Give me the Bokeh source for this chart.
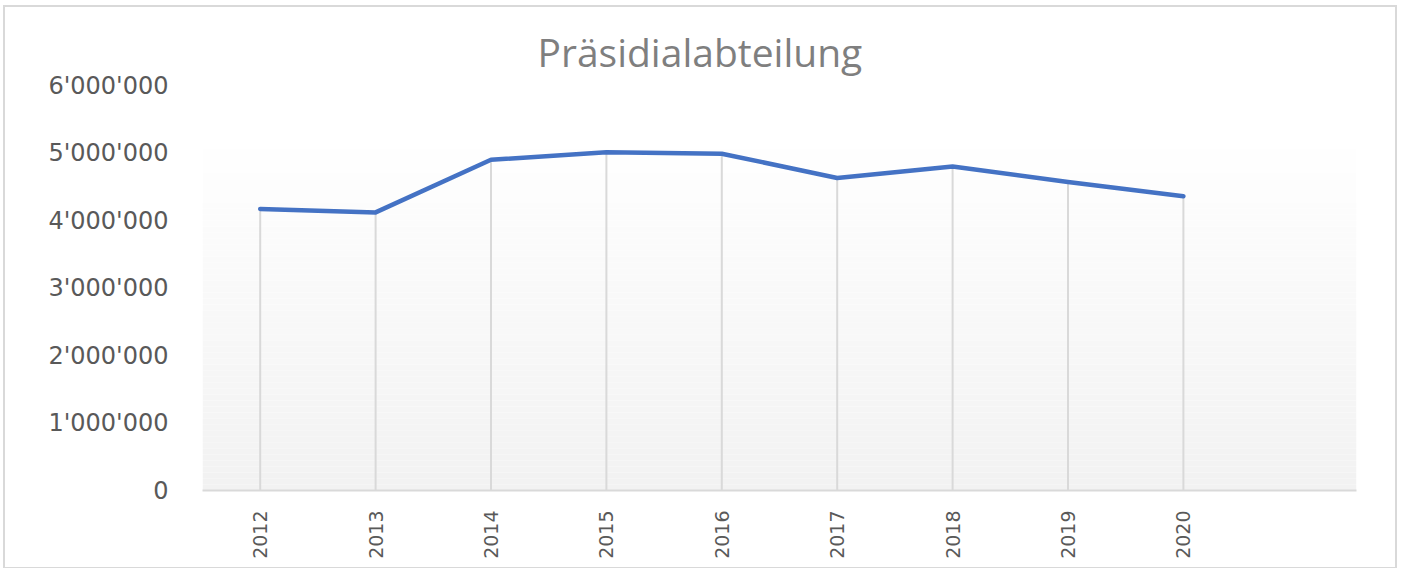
import numpy as np
from bokeh.plotting import figure
from bokeh.models import FixedTicker, Range1d, ColumnDataSource
from bokeh.embed import file_html
from bokeh.resources import INLINE

title_text = "Präsidialabteilung"
years = ["2012", "2013", "2014", "2015", "2016", "2017", "2018", "2019", "2020"]
amounts = [4170000, 4120000, 4900000, 5010000, 4990000, 4630000, 4800000, 4570000, 4360000]
y_ticks = [0, 1000000, 2000000, 3000000, 4000000, 5000000, 6000000]
y_tick_labels = ["0", "1'000'000", "2'000'000", "3'000'000", "4'000'000", "5'000'000", "6'000'000"]

x_num = [int(y) for y in years]
x_lo, x_hi = x_num[0] - 0.5, x_num[-1] + 1.5

p = figure(width=1390, height=560, output_backend="svg", toolbar_location=None,
           x_range=Range1d(x_lo, x_hi), y_range=Range1d(0, 6000000),
           min_border_left=197, min_border_right=39, min_border_top=78, min_border_bottom=77,
           frame_width=1154, frame_height=405)
p.styles = {"border": "2px solid #d9d9d9", "margin-left": "3px", "margin-top": "5px"}
p.outline_line_color = None
p.background_fill_color = "white"
p.border_fill_color = "white"
p.xgrid.visible = False
p.ygrid.visible = False

p.title.text = title_text
p.title.align = "left"
p.title.offset = 335
p.title.text_font = "Open Sans"
p.title.text_font_style = "normal"
p.title.text_font_size = "39px"
p.title.text_color = "#7f7f7f"
p.title.standoff = 15

# gradient plot-area background
grad_top = 5330000
n = 60
edges = np.linspace(0, grad_top, n + 1)
cols = []
for i in range(n):
    t = i / (n - 1)
    c = int(round(0xf2 + (0xff - 0xf2) * t))
    cols.append("#%02x%02x%02x" % (c, c, c))
p.quad(left=x_lo, right=x_hi, bottom=edges[:-1], top=edges[1:], fill_color=cols, line_color=None)

src = ColumnDataSource(dict(x=x_num, y=amounts, y0=[0] * len(x_num)))
p.segment(x0="x", y0="y0", x1="x", y1="y", source=src, line_color="#d9d9d9", line_width=2)
p.line(x="x", y="y", source=src, line_color="#4472c4", line_width=4.5, line_join="round", line_cap="round")

# axes
p.xaxis.ticker = FixedTicker(ticks=x_num)
p.xaxis.major_label_overrides = {x: y for x, y in zip(x_num, years)}
p.xaxis.major_label_orientation = np.pi / 2
p.xaxis.axis_line_color = "#d9d9d9"
p.xaxis.axis_line_width = 2
p.xaxis.major_tick_line_color = None
p.xaxis.minor_tick_line_color = None
p.xaxis.major_label_text_font = "DejaVu Sans"
p.xaxis.major_label_text_font_size = "19px"
p.xaxis.major_label_text_color = "#595959"
p.xaxis.major_label_standoff = 14

p.yaxis.ticker = FixedTicker(ticks=y_ticks)
p.yaxis.major_label_overrides = {t: l for t, l in zip(y_ticks, y_tick_labels)}
p.yaxis.axis_line_color = None
p.yaxis.major_tick_line_color = None
p.yaxis.minor_tick_line_color = None
p.yaxis.major_label_text_font = "DejaVu Sans"
p.yaxis.major_label_text_font_size = "24px"
p.yaxis.major_label_text_color = "#595959"
p.yaxis.major_label_standoff = 28

open("out.html", "w").write(file_html(p, INLINE))
